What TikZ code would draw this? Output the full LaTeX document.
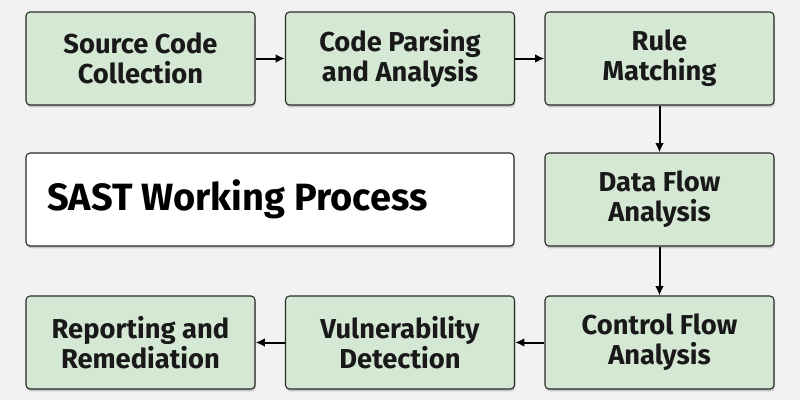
\documentclass[tikz,border=0pt]{standalone}
\usepackage{fontspec}
\setmainfont{Fira Sans}
\usetikzlibrary{shadows,arrows.meta}
\definecolor{bgGray}{RGB}{242,242,242}
\definecolor{stepGreen}{RGB}{213,232,212}
\definecolor{edgeDark}{RGB}{40,40,40}

\begin{document}
\begin{tikzpicture}[x=0.75pt,y=0.75pt,yscale=-1,xscale=1,
  stepbox/.style={draw=edgeDark, line width=0.8pt, fill=stepGreen, rounded corners=3pt,
    minimum width=171.75pt, minimum height=69.75pt, align=center,
    font=\fontsize{20.5}{22.5}\selectfont\bfseries, text=black!90,
    drop shadow={shadow xshift=0.6pt, shadow yshift=-1.8pt, opacity=0.18, fill=black}},
  titlebox/.style={stepbox, fill=white, minimum width=366pt, align=left},
  flow/.style={-{Latex[length=7pt,width=6.5pt]}, line width=1.5pt, black}]
%set picture to 800 x 400
\fill[bgGray] (0,0) rectangle (800,400);
\useasboundingbox (0,0) rectangle (800,400);

\node[stepbox] (collect) at (140.5,58.5) {Source Code\\Collection};
\node[stepbox] (parse)   at (400,58.5)   {Code Parsing\\and Analysis};
\node[stepbox] (rules)   at (659.5,58.5) {Rule\\Matching};
\node[stepbox] (dataflow) at (659.5,199.5) {Data Flow\\Analysis};
\node[stepbox] (ctrlflow) at (659.5,342.5) {Control Flow\\Analysis};
\node[stepbox] (vuln)    at (400,342.5)   {Vulnerability\\Detection};
\node[stepbox] (report)  at (140.5,342.5) {Reporting and\\Remediation};

\node[titlebox, minimum height=69.75pt] (title) at (270,199.5) {};
\node[anchor=west, inner sep=0pt, font=\fontsize{28.5}{32}\selectfont\bfseries] (titletext) at (47,199.5) {SAST Working Process};

\draw[flow] (collect) -- (parse);
\draw[flow] (parse) -- (rules);
\draw[flow] (rules) -- (dataflow);
\draw[flow] (dataflow) -- (ctrlflow);
\draw[flow] (ctrlflow) -- (vuln);
\draw[flow] (vuln) -- (report);

\end{tikzpicture}
\end{document}
